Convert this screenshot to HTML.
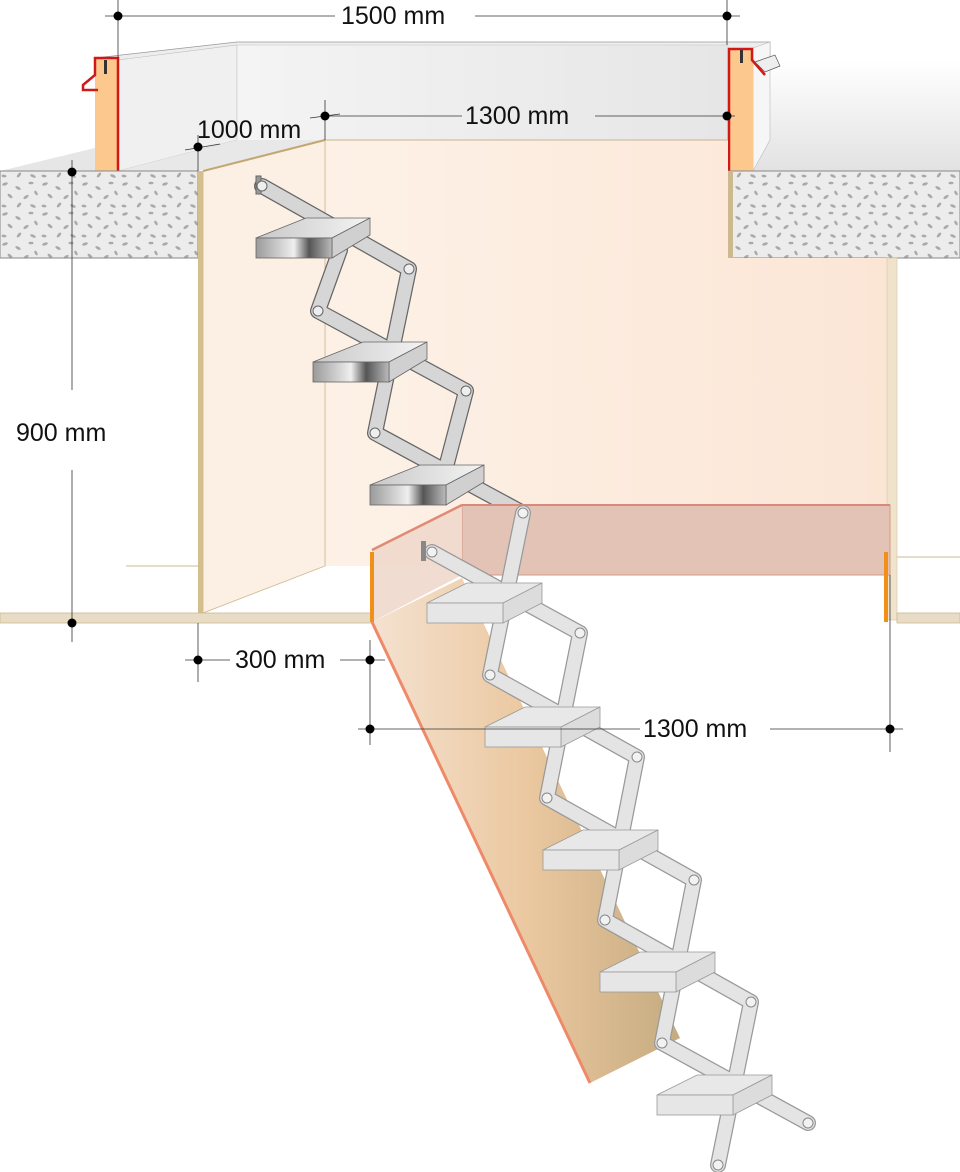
<!DOCTYPE html>
<html><head><meta charset="utf-8"><style>
html,body{margin:0;padding:0;background:#fff;}
svg{display:block;}
text{font-family:"Liberation Sans",sans-serif;font-size:25px;fill:#111;}
</style></head><body>
<svg width="960" height="1172" viewBox="0 0 960 1172" xmlns="http://www.w3.org/2000/svg">
<defs>
<pattern id="conc" width="40" height="30" patternUnits="userSpaceOnUse">
<rect width="40" height="30" fill="#ececec"/>
<g fill="#a9a9a9">
<ellipse cx="5" cy="4" rx="3" ry="1.4" transform="rotate(-20 5 4)"/>
<ellipse cx="18" cy="8" rx="3" ry="1.4" transform="rotate(30 18 8)"/>
<ellipse cx="31" cy="3" rx="2.5" ry="1.3"/>
<ellipse cx="10" cy="16" rx="3" ry="1.4" transform="rotate(40 10 16)"/>
<ellipse cx="26" cy="17" rx="3" ry="1.4" transform="rotate(-35 26 17)"/>
<ellipse cx="36" cy="13" rx="2.5" ry="1.3" transform="rotate(60 36 13)"/>
<ellipse cx="4" cy="26" rx="2.5" ry="1.3" transform="rotate(10 4 26)"/>
<ellipse cx="19" cy="25" rx="3" ry="1.4" transform="rotate(-50 19 25)"/>
<ellipse cx="33" cy="26" rx="3" ry="1.4" transform="rotate(25 33 26)"/>
</g></pattern>
<linearGradient id="floorR" x1="0" y1="0" x2="0" y2="1"><stop offset="0" stop-color="#fff"/><stop offset="1" stop-color="#e2e2e2"/></linearGradient>
<linearGradient id="back" x1="0" y1="0" x2="1" y2="0"><stop offset="0" stop-color="#fdf1e6"/><stop offset="1" stop-color="#fbe6d6"/></linearGradient>
<linearGradient id="ramp" x1="0" y1="0" x2="1" y2="0"><stop offset="0" stop-color="#f4e2d0"/><stop offset="0.5" stop-color="#ebc8a0"/><stop offset="1" stop-color="#c6ab80"/></linearGradient>
<linearGradient id="met" x1="0" y1="0" x2="1" y2="0"><stop offset="0" stop-color="#9a9a9a"/><stop offset="0.5" stop-color="#efefef"/><stop offset="0.7" stop-color="#555"/><stop offset="1" stop-color="#bbb"/></linearGradient>
<linearGradient id="mettop" x1="0" y1="0" x2="1" y2="0"><stop offset="0" stop-color="#c8c8c8"/><stop offset="1" stop-color="#f4f4f4"/></linearGradient>
<linearGradient id="frameTop" x1="0" y1="0" x2="1" y2="0"><stop offset="0" stop-color="#f4f4f4"/><stop offset="1" stop-color="#e6e6e6"/></linearGradient>
<g id="tU">
<polygon points="0,0 50,-20 114,-20 76,0" fill="url(#mettop)" stroke="#666" stroke-width="0.8"/>
<polygon points="76,0 114,-20 114,-3 76,20" fill="#d0d0d0" stroke="#666" stroke-width="0.8"/>
<rect x="0" y="0" width="76" height="20" fill="url(#met)" stroke="#666" stroke-width="0.8"/>
</g>
<g id="tL">
<polygon points="0,0 40,-20 115,-20 76,0" fill="#e8e8e8" stroke="#999" stroke-width="0.8"/>
<polygon points="76,0 115,-20 115,0 76,20" fill="#dcdcdc" stroke="#999" stroke-width="0.8"/>
<rect x="0" y="0" width="76" height="20" fill="#e6e6e6" stroke="#999" stroke-width="0.8"/>
</g>
</defs>

<rect x="740" y="60" width="220" height="111" fill="url(#floorR)"/>
<polygon points="0,171 95,148 95,171" fill="#e6e6e6"/>
<polygon points="95,58 237,42 770,42 770,60 118,60" fill="#ededed" stroke="#999" stroke-width="0.8"/>
<polygon points="118,60 237,45 237,140 118,171" fill="#f0f0f0" stroke="#bbb" stroke-width="0.6"/>
<rect x="237" y="45" width="491" height="96" fill="url(#frameTop)" stroke="#ccc" stroke-width="0.6"/>
<polygon points="118,171 198,171 325,140 237,140" fill="#e8e8e8"/>
<polygon points="753,48 770,42 770,140 753,171" fill="#f6f6f6" stroke="#bbb" stroke-width="0.6"/>
<rect x="95" y="58" width="23" height="113" fill="#fdc88e"/>
<path d="M118,171 V58 H95 V75 L83,85 V90 H98" fill="none" stroke="#d01818" stroke-width="2.5"/>
<rect x="104" y="60" width="3" height="14" fill="#333"/>
<rect x="728" y="48" width="25" height="123" fill="#fdc88e"/>
<path d="M729,171 V49 H752 V60 L765,75" fill="none" stroke="#d01818" stroke-width="2.5"/>
<polygon points="755,62 775,55 780,66 765,72" fill="#eee" stroke="#555" stroke-width="0.7"/>
<rect x="740" y="50" width="3" height="13" fill="#333"/>
<rect x="0" y="171" width="198" height="87" fill="url(#conc)" stroke="#888" stroke-width="1"/>
<rect x="728" y="171" width="232" height="87" fill="url(#conc)" stroke="#888" stroke-width="1"/>
<rect x="728" y="171" width="5" height="87" fill="#cdb98f"/>
<!-- back walls -->
<polygon points="325,140 728,140 728,258 890,258 890,566 325,566" fill="url(#back)"/>
<line x1="325" y1="140" x2="325" y2="566" stroke="#d8c6a8" stroke-width="1"/>
<line x1="325" y1="140" x2="728" y2="140" stroke="#c8b48f" stroke-width="1"/>
<polygon points="203,171 325,140 325,566 203,613" fill="#fcefe3" stroke="#cfb88f" stroke-width="0.8"/>
<line x1="203" y1="171" x2="325" y2="140" stroke="#c2a775" stroke-width="2"/>
<rect x="198" y="171" width="5" height="442" fill="#d5be8e"/>
<rect x="887" y="258" width="10" height="362" fill="#efe3cc" stroke="#d5c5a5" stroke-width="0.6"/>
<line x1="126" y1="566" x2="198" y2="566" stroke="#cdb88f" stroke-width="1"/>
<line x1="897" y1="557" x2="960" y2="557" stroke="#cdb88f" stroke-width="1"/>
<rect x="0" y="613" width="372" height="10" fill="#e8dcc6" stroke="#cdb88f" stroke-width="0.8"/>
<rect x="897" y="613" width="63" height="10" fill="#e8dcc6" stroke="#cdb88f" stroke-width="0.8"/>

<g stroke="#666" stroke-width="1" fill="#cfcfcf" stroke-linecap="round">
<g fill="none">
<path d="M262,186 L409,269 M318,311 L466,391 M375,433 L523,513 M409,269 L375,433 M466,391 L440,490 M340,250 L318,311" stroke="#666" stroke-width="16"/>
<path d="M262,186 L409,269 M318,311 L466,391 M375,433 L523,513 M409,269 L375,433 M466,391 L440,490 M340,250 L318,311" stroke="#d6d6d6" stroke-width="13.5"/>
</g>
<rect x="256" y="176" width="5" height="18" fill="#999"/>
<circle cx="262" cy="186" r="5" fill="#eee"/><circle cx="409" cy="269" r="5" fill="#eee"/>
<circle cx="318" cy="311" r="5" fill="#eee"/><circle cx="466" cy="391" r="5" fill="#eee"/>
<circle cx="375" cy="433" r="5" fill="#eee"/><circle cx="523" cy="513" r="5" fill="#eee"/>
</g>
<use href="#tU" x="256" y="238"/>
<use href="#tU" x="313" y="362"/>
<use href="#tU" x="370" y="485"/>

<rect x="462" y="505" width="428" height="70" fill="#e3c3b6" stroke="#d49a85" stroke-width="1"/>
<line x1="462" y1="505" x2="890" y2="505" stroke="#d8897a" stroke-width="2"/>
<polygon points="372,550 462,505 462,575 372,622" fill="#f0d8cc" fill-opacity="0.9"/>
<line x1="372" y1="550" x2="462" y2="505" stroke="#e08a74" stroke-width="2.5"/>
<polygon points="372,622 462,578 680,1038 590,1083" fill="url(#ramp)"/>
<line x1="372" y1="622" x2="590" y2="1083" stroke="#ee8a6a" stroke-width="3"/>
<rect x="370" y="552" width="4" height="70" fill="#f09018"/>
<rect x="884" y="552" width="4" height="70" fill="#f09018"/>

<g>
<path d="M432,552 L580,633 M490,675 L637,757 M547,798 L694,880 M605,920 L751,1002 M662,1043 L808,1123 M523,513 L490,675 M580,633 L547,798 M637,757 L605,920 M694,880 L662,1043 M751,1002 L718,1165" stroke="#999" stroke-width="16" stroke-linecap="round" fill="none"/>
<path d="M432,552 L580,633 M490,675 L637,757 M547,798 L694,880 M605,920 L751,1002 M662,1043 L808,1123 M523,513 L490,675 M580,633 L547,798 M637,757 L605,920 M694,880 L662,1043 M751,1002 L718,1165" stroke="#e4e4e4" stroke-width="13.5" stroke-linecap="round" fill="none"/>
<rect x="421" y="541" width="5" height="20" fill="#888"/>
<g fill="#f2f2f2" stroke="#888" stroke-width="1">
<circle cx="432" cy="552" r="5"/><circle cx="580" cy="633" r="5"/><circle cx="490" cy="675" r="5"/>
<circle cx="637" cy="757" r="5"/><circle cx="547" cy="798" r="5"/><circle cx="694" cy="880" r="5"/>
<circle cx="605" cy="920" r="5"/><circle cx="751" cy="1002" r="5"/><circle cx="662" cy="1043" r="5"/>
<circle cx="808" cy="1123" r="5"/><circle cx="718" cy="1165" r="5"/><circle cx="523" cy="513" r="5"/>
</g>
</g>
<use href="#tL" x="427" y="603"/>
<use href="#tL" x="485" y="727"/>
<use href="#tL" x="543" y="850"/>
<use href="#tL" x="600" y="972"/>
<use href="#tL" x="657" y="1095"/>

<g stroke="#333" stroke-width="0.8">
<line x1="105" y1="16" x2="335" y2="16"/><line x1="475" y1="16" x2="740" y2="16"/>
<line x1="118" y1="0" x2="118" y2="58"/><line x1="727" y1="0" x2="727" y2="45"/>
<line x1="325" y1="116" x2="462" y2="116"/><line x1="595" y1="116" x2="735" y2="116"/>
<line x1="325" y1="100" x2="325" y2="140"/>
<line x1="310" y1="118" x2="340" y2="114"/>
<line x1="185" y1="150" x2="220" y2="144"/>
<line x1="198" y1="135" x2="198" y2="171"/>
<line x1="72" y1="160" x2="72" y2="390"/><line x1="72" y1="470" x2="72" y2="642"/>
<line x1="185" y1="660" x2="230" y2="660"/><line x1="340" y1="660" x2="385" y2="660"/>
<line x1="198" y1="623" x2="198" y2="682"/><line x1="370" y1="640" x2="370" y2="745"/>
<line x1="358" y1="729" x2="640" y2="729"/><line x1="770" y1="729" x2="903" y2="729"/>
<line x1="890" y1="575" x2="890" y2="752"/>
</g>
<g fill="#000">
<circle cx="118" cy="16" r="4.5"/><circle cx="727" cy="16" r="4.5"/>
<circle cx="325" cy="116" r="4.5"/><circle cx="727" cy="116" r="4.5"/>
<circle cx="198" cy="147" r="4.5"/>
<circle cx="72" cy="172" r="4.5"/><circle cx="72" cy="623" r="4.5"/>
<circle cx="198" cy="660" r="4.5"/><circle cx="370" cy="660" r="4.5"/>
<circle cx="370" cy="729" r="4.5"/><circle cx="890" cy="729" r="4.5"/>
</g>
<text x="341" y="24">1500 mm</text>
<text x="465" y="124">1300 mm</text>
<text x="197" y="138">1000 mm</text>
<text x="16" y="441">900 mm</text>
<text x="235" y="668">300 mm</text>
<text x="643" y="737">1300 mm</text>
</svg>
</body></html>
